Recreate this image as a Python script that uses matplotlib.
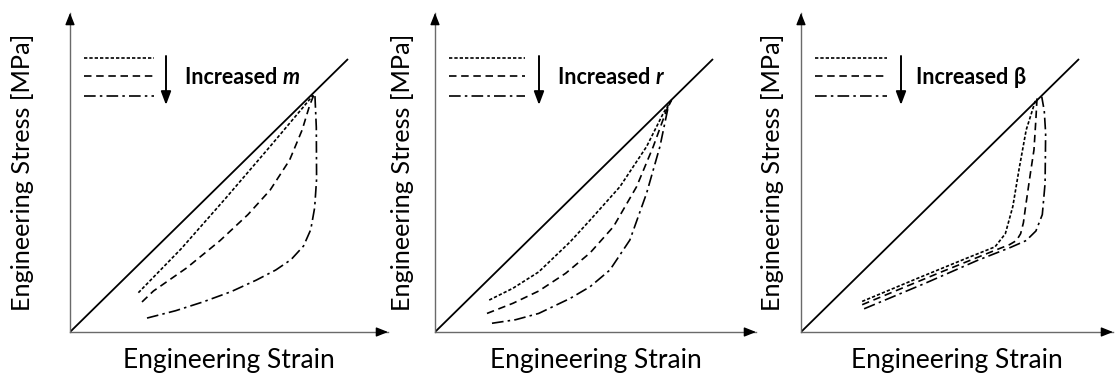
import numpy as np
import matplotlib.pyplot as plt

plt.rcParams['font.family'] = ['Lato', 'DejaVu Sans']

W, H = 1116, 378
U, V = 278.0, 273.0  # pixels per unit strain / stress

# 45 degree reference line (same in every panel)
diag_strain = [0.0, 1.0]
diag_stress = [0.0, 1.0]

# panel 1: increased m
m_dot_x = [0.246, 0.40, 0.56, 0.72, 0.84, 0.875]
m_dot_y = [0.144, 0.305, 0.49, 0.68, 0.825, 0.868]
m_dash_x = [0.259, 0.30, 0.42, 0.54, 0.64, 0.72, 0.79, 0.835, 0.862, 0.877]
m_dash_y = [0.110, 0.150, 0.235, 0.335, 0.43, 0.52, 0.63, 0.74, 0.83, 0.868]
m_dd_x = [0.277, 0.38, 0.478, 0.58, 0.67, 0.74, 0.795, 0.84, 0.866, 0.88, 0.887, 0.886, 0.881]
m_dd_y = [0.051, 0.078, 0.110, 0.148, 0.19, 0.227, 0.265, 0.315, 0.375, 0.455, 0.56, 0.75, 0.868]

# panel 2: increased r
r_dot_x = [0.195, 0.28, 0.373, 0.486, 0.558, 0.665, 0.761, 0.821, 0.851]
r_dot_y = [0.117, 0.16, 0.22, 0.33, 0.41, 0.532, 0.679, 0.801, 0.850]
r_dash_x = [0.187, 0.28, 0.373, 0.47, 0.558, 0.642, 0.725, 0.785, 0.833, 0.851]
r_dash_y = [0.068, 0.105, 0.15, 0.215, 0.29, 0.386, 0.532, 0.679, 0.813, 0.850]
r_dd_x = [0.205, 0.29, 0.373, 0.486, 0.558, 0.629, 0.701, 0.761, 0.809, 0.839, 0.851]
r_dd_y = [0.032, 0.045, 0.068, 0.123, 0.166, 0.227, 0.337, 0.508, 0.679, 0.825, 0.850]

# panel 3: increased beta
b_dot_x = [0.22, 0.42, 0.60, 0.698, 0.735, 0.762, 0.785, 0.81, 0.844]
b_dot_y = [0.112, 0.197, 0.272, 0.312, 0.36, 0.46, 0.60, 0.74, 0.850]
b_dash_x = [0.22, 0.50, 0.70, 0.75, 0.775, 0.79, 0.80, 0.808, 0.825, 0.838, 0.845, 0.849]
b_dash_y = [0.10, 0.218, 0.30, 0.32, 0.335, 0.36, 0.40, 0.46, 0.58, 0.667, 0.78, 0.857]
b_dd_x = [0.227, 0.45, 0.634, 0.754, 0.81, 0.845, 0.868, 0.878, 0.880, 0.875, 0.866]
b_dd_y = [0.085, 0.18, 0.262, 0.31, 0.335, 0.37, 0.43, 0.545, 0.728, 0.81, 0.862]

param_names = ['m', 'r', 'β']
param_italic = [True, True, False]
curves = [
    [(m_dot_x, m_dot_y), (m_dash_x, m_dash_y), (m_dd_x, m_dd_y)],
    [(r_dot_x, r_dot_y), (r_dash_x, r_dash_y), (r_dd_x, r_dd_y)],
    [(b_dot_x, b_dot_y), (b_dash_x, b_dash_y), (b_dd_x, b_dd_y)],
]

styles = [(0, (2.0, 1.2)), (0, (4.5, 2.8)), (0, (7, 2.5, 1.5, 2.5))]

# panel layout in pixels: axis left, arrow tip, ylabel centre, legend line start/end, arrow x, text x
layout = [
    (70, 388, 23, 84, 154, 166, 185),
    (435, 756, 403, 449, 525, 539, 558),
    (801, 1113, 773, 815, 887, 901, 916),
]
bottom, top = 332, 13
leg_y = [58, 76, 96]

fig = plt.figure(figsize=(W / 100, H / 100), dpi=100)

for i, (L, R, ylab_x, lx0, lx1, ax_x, tx) in enumerate(layout):
    ax = fig.add_axes([L / W, (H - bottom) / H, (R - L) / W, (bottom - top) / H])
    ax.set_xlim(0, (R - L) / U)
    ax.set_ylim(0, (bottom - top) / V)
    for s in ['top', 'right']:
        ax.spines[s].set_visible(False)
    for s in ['left', 'bottom']:
        ax.spines[s].set_color('#6a6a6a')
        ax.spines[s].set_linewidth(1.0)
    ax.set_xticks([])
    ax.set_yticks([])
    ax.patch.set_alpha(0)

    # arrow heads on the axes
    hp = dict(arrowstyle='-|>,head_length=0.7,head_width=0.28', color='black', lw=1,
              shrinkA=0, shrinkB=0)
    ax.annotate('', xy=(1, 0), xycoords='axes fraction', xytext=(-9, 0),
                textcoords='offset pixels', arrowprops=hp, annotation_clip=False)
    ax.annotate('', xy=(0, 1), xycoords='axes fraction', xytext=(0, -9),
                textcoords='offset pixels', arrowprops=hp, annotation_clip=False)

    ax.plot(diag_strain, diag_stress, color='black', lw=1.3, solid_capstyle='butt')
    for (cx, cy), ls in zip(curves[i], styles):
        ax.plot(cx, cy, color='black', lw=1.2, linestyle=ls)

    # legend sketch
    fx = lambda px: (px - L) / (R - L)
    fy = lambda py: (bottom - py) / (bottom - top)
    for yy, ls in zip(leg_y, styles):
        ax.plot([fx(lx0), fx(lx1)], [fy(yy), fy(yy)], transform=ax.transAxes,
                color='black', lw=1.2, linestyle=ls, clip_on=False)
    ax.annotate('', xy=(fx(ax_x), fy(105)), xytext=(fx(ax_x), fy(56)),
                xycoords='axes fraction',
                arrowprops=dict(arrowstyle='-|>,head_length=0.8,head_width=0.3',
                                color='black', lw=1.4, shrinkA=0, shrinkB=0))
    t1 = ax.text(fx(tx), fy(77), 'Increased ', transform=ax.transAxes,
                 fontsize=15.5, fontweight='bold', va='center', ha='left')
    ax.annotate(param_names[i], xy=(1, 0), xycoords=t1, va='bottom', ha='left',
                fontsize=15.5, fontweight='bold',
                style='italic' if param_italic[i] else 'normal')

    ax.text(0.5, -(368 - bottom) / (bottom - top), 'Engineering Strain',
            transform=ax.transAxes, ha='center', va='baseline', fontsize=19)
    fig.text(ylab_x / W, (H - 172) / H, 'Engineering Stress [MPa]', rotation=90,
             ha='center', va='center', fontsize=18.2)

fig.savefig('out.png', dpi=100)
